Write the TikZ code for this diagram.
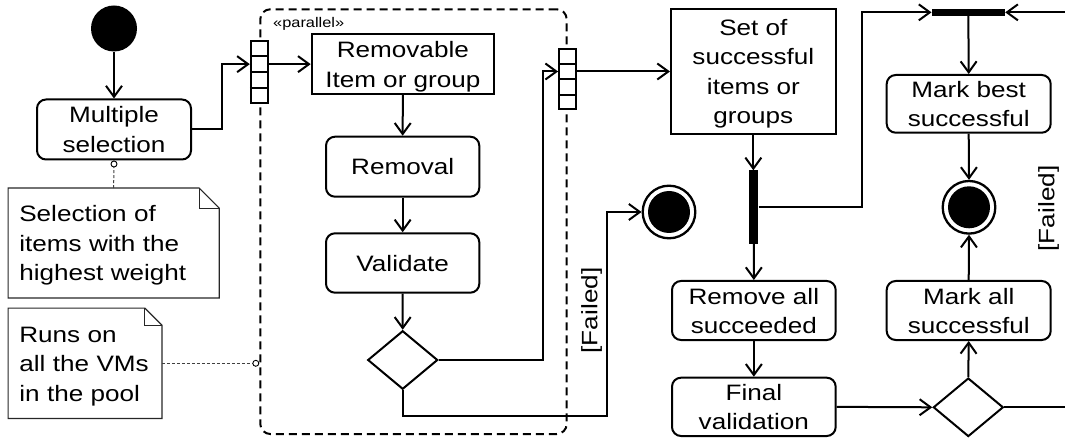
\documentclass[tikz,border=0pt]{standalone}
\usepackage{fontspec}
\setmainfont[FakeStretch=1.17]{Liberation Sans}
\usetikzlibrary{arrows.meta,shapes.geometric,calc}
\newcommand{\mfont}{\fontsize{22.3}{29.5}\selectfont}
\newcommand{\smallfontx}{\fontsize{14}{16}\selectfont}
\begin{document}
\begin{tikzpicture}[x=1pt,y=-1pt,
  lw/.style={line width=2pt},
  arr/.style={lw,-{Straight Barb[length=11pt,width=16pt]}},
  txt/.style={font=\mfont,align=center,inner sep=0pt,text height=16.5pt,text depth=0pt},
  l2/.style={text height=46pt},
  l4/.style={text height=105pt},
  act/.style={txt,draw,lw,rounded corners=9pt},
  obj/.style={txt,draw,lw},
  pinbox/.style={draw,line width=1.8pt,fill=white,minimum width=17pt,inner sep=0pt},
  barnode/.style={fill=black,inner sep=0pt},
  dec/.style={draw,lw,diamond,inner sep=0pt,minimum width=70pt,minimum height=58.5pt,fill=white},
  fin/.style={circle,draw,line width=2.3pt,minimum size=52.6pt,inner sep=0pt},
  note/.style={font=\mfont,align=left,inner sep=0pt,inner xsep=11pt,text height=16.5pt,text depth=59pt},
  noteline/.style={line width=1pt,black!75,dash pattern=on 3pt off 2pt},
  lbl/.style={font=\mfont,rotate=90,inner sep=0pt}
]
\useasboundingbox (0,0) rectangle (1065,438);

% parallel region
\node[draw,lw,dash pattern=on 8pt off 5pt,rounded corners=10pt,minimum width=306.4pt,minimum height=424.7pt,inner sep=0pt] (par) at (413.5,221.65) {};
\node[font=\smallfontx,anchor=west,inner sep=0pt] (parlbl) at (273,24) {«parallel»};

% nodes
\node[circle,fill=black,minimum size=46pt,inner sep=0pt] (start) at (114,28.5) {};
\node[act,l2,minimum width=154pt,minimum height=60pt] (ms) at (114,129.5) {Multiple\\selection};

\node[pinbox,minimum height=62pt] (p1) at (259.2,71.7) {};
\node[pinbox,minimum height=60.3pt] (p2) at (567.5,79.2) {};
\foreach \p in {p1,p2}{
  \foreach \f in {0.25,0.5,0.75}{
    \draw[line width=1.8pt] ($(\p.north west)!\f!(\p.south west)$) -- ($(\p.north east)!\f!(\p.south east)$);
  }
}

\node[obj,l2,minimum width=182.3pt,minimum height=59.7pt] (rem) at (402.85,64.15) {Removable\\Item or group};
\node[act,minimum width=153.3pt,minimum height=60pt] (rmv) at (402.65,166.7) {Removal};
\node[act,minimum width=153.3pt,minimum height=59.4pt] (val) at (402.65,263) {Validate};
\node[dec] (d1) at (402.7,360) {};

\node[obj,l4,minimum width=164.7pt,minimum height=125pt] (set) at (753.35,71.5) {Set of\\successful\\items or\\groups};
\node[barnode,minimum width=9pt,minimum height=73.5pt] (bar1) at (753.8,207.25) {};
\node[barnode,minimum width=73.3pt,minimum height=6.7pt] (bar2) at (968.35,12.35) {};

\node[fin] (f1) at (669,212) {};
\fill (f1) circle (21pt);
\node[fin] (f2) at (969,207.3) {};
\fill (f2) circle (21pt);

\node[act,l2,minimum width=164pt,minimum height=57.7pt] (mb) at (968.7,103.85) {Mark best\\successful};
\node[act,l2,minimum width=164pt,minimum height=59pt] (ma) at (968.7,310.5) {Mark all\\successful};
\node[dec] (d2) at (968.3,407.3) {};

\node[act,l2,minimum width=163.7pt,minimum height=59pt] (ra) at (753.85,310.5) {Remove all\\succeeded};
\node[act,l2,minimum width=163.7pt,minimum height=58.3pt] (fv) at (753.85,406.85) {Final\\validation};

\coordinate (rin) at (1065,12.35);
\coordinate (rout) at (1065,407.3);

\node[lbl] (fail1) at (591.7,310.5) {[Failed]};
\node[lbl] (fail2) at (1048.5,208.5) {[Failed]};

% notes
\node[note,minimum width=210.7pt,minimum height=109.4pt,text width=188.7pt] (n1) at (113.65,243) {Selection of\\items with the\\highest weight};
\node[note,minimum width=153.4pt,minimum height=110pt,text width=131.4pt] (n2) at (85,363.3) {Runs on\\all the VMs\\in the pool};
\foreach \n/\k in {n1/20,n2/17}{
  \draw[line width=1.2pt,black!85] (\n.north west) -- ($(\n.north east)+(-\k,0)$) -- ($(\n.north east)+(0,\k)$) -- (\n.south east) -- (\n.south west) -- cycle;
  \draw[line width=1pt,black!85] ($(\n.north east)+(-\k,0)$) -- ($(\n.north east)+(-\k,\k)$) -- ($(\n.north east)+(0,\k)$);
}
\draw[noteline] (n1.north) -- (ms.south);
\draw[line width=0.9pt,fill=white] ($(ms.south)+(0,3.5)$) circle (3pt);
\coordinate (n2end) at ($(n2.east -| par.west)+(-3.5,0)$);
\draw[noteline] (n2.east) -- (n2end);
\draw[line width=0.9pt,fill=white] (n2end) circle (3pt);

% connectors
\draw[arr] (start) -- (ms.north);
\draw[arr] (ms.east) -- ++(29.7,0) |- (p1.west |- rem.west);
\draw[arr] (p1.east |- rem.west) -- (rem.west);
\draw[arr] (rem.south) -- (rmv.north);
\draw[arr] (rmv.south) -- (val.north);
\draw[arr] (val.south) -- (d1.north);
\draw[arr] (d1.east) -- ++(104.6,0) |- (p2.west |- set.west);
\draw[arr] (p2.east |- set.west) -- (set.west);
\draw[arr] (d1.south) -- ++(0,25.7) -- ++(204,0) |- (f1.west);
\draw[arr] (set.south) -- (set.south |- bar1.north);
\draw[arr] (bar1.east) -- ++(103.4,0) |- (bar2.west);
\draw[arr] (rin) -- (bar2.east);
\draw[arr] (bar2.south) -- (mb.north);
\draw[arr] (mb.south) -- (f2.north);
\draw[arr] (bar1.south) -- (ra.north);
\draw[arr] (ra.south) -- (fv.north);
\draw[arr] (fv.east) -- (d2.west);
\draw[arr] (d2.north) -- (ma.south);
\draw[arr] (ma.north) -- (f2.south);
\draw[lw] (d2.east) -- (rout);
\end{tikzpicture}
\end{document}
